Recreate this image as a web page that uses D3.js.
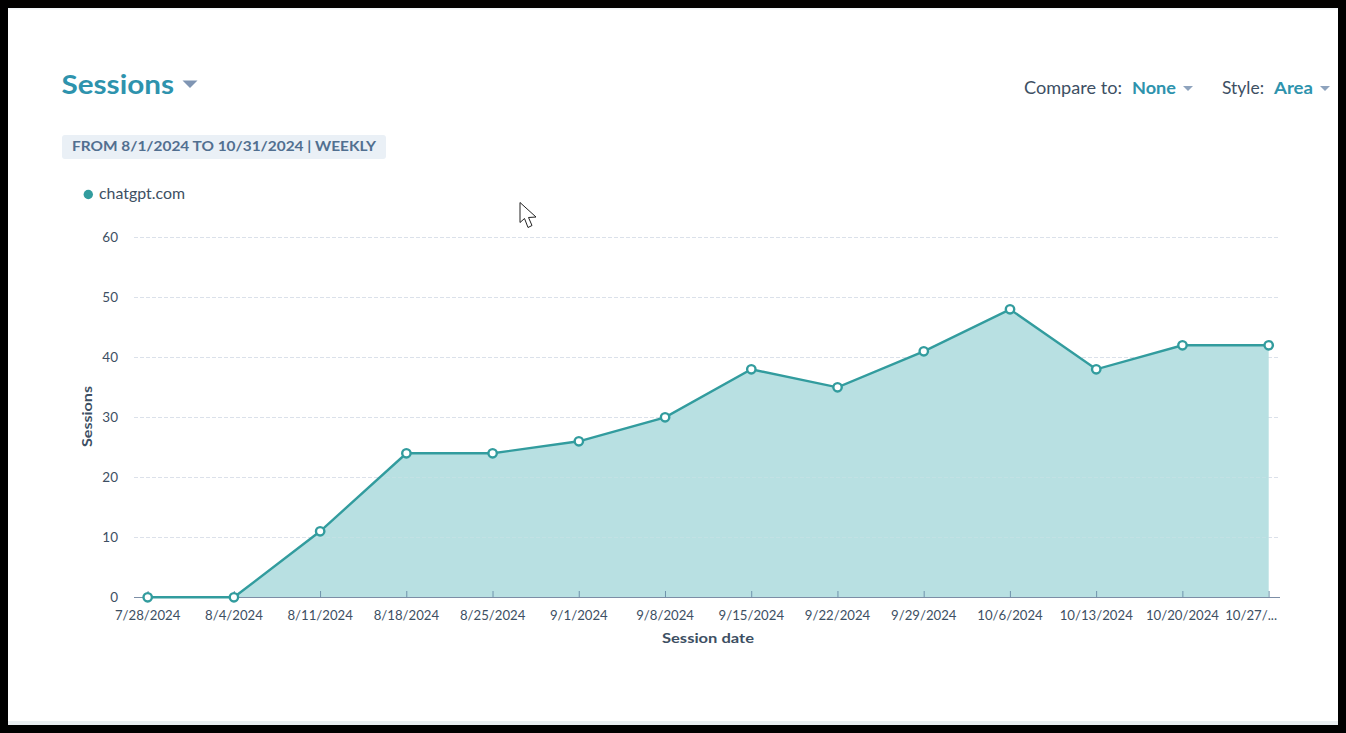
<!DOCTYPE html>
<html><head><meta charset="utf-8">
<style>
html,body{margin:0;padding:0;background:#000;overflow:hidden}
svg{display:block}
text{font-family:Lato,"Open Sans",sans-serif}
</style>
<script src="https://cdn.jsdelivr.net/npm/d3@7"></script>
</head><body>
<svg id="c" width="1346" height="733"></svg>
<script>
const categories=["7/28/2024","8/4/2024","8/11/2024","8/18/2024","8/25/2024","9/1/2024","9/8/2024","9/15/2024","9/22/2024","9/29/2024","10/6/2024","10/13/2024","10/20/2024","10/27/..."];
const sessions=[0,0,11,24,24,26,30,38,35,41,48,38,42,42];
const yTicks=[0,10,20,30,40,50,60];
const seriesName="chatgpt.com";
const teal="#329c9e", blue="#2e93ad", dark="#3d4f63", slate="#516f90";

const svg=d3.select("#c");
svg.append("rect").attr("width",1346).attr("height",733).attr("fill","#000");
svg.append("rect").attr("x",8).attr("y",8).attr("width",1330).attr("height",717).attr("fill","#fff");
svg.append("rect").attr("x",8).attr("y",8).attr("width",1330).attr("height",1.5).attr("fill","#eef3f6");
svg.append("rect").attr("x",8).attr("y",721).attr("width",1330).attr("height",4).attr("fill","#e9eef1");

const x=d3.scalePoint().domain(categories).range([147.7,1268.7]);
const y=d3.scaleLinear().domain([0,60]).range([597,237]);
const axisL=134, axisR=1280;
const fit=(s,w)=>s.attr("textLength",w).attr("lengthAdjust","spacingAndGlyphs");

// header
fit(svg.append("text").attr("x",61.5).attr("y",94).attr("font-size",27.5).attr("font-weight",700).attr("fill",blue).text("Sessions"),112.5);
const tri=(cx,cy,w,h,f)=>svg.append("path").attr("d",`M${cx-w/2},${cy}h${w}l${-w/2},${h}z`).attr("fill",f);
tri(190,80.5,15,7.5,"#7f95b3");
fit(svg.append("text").attr("x",1024).attr("y",94).attr("font-size",17).attr("fill",dark).text("Compare to:"),98);
fit(svg.append("text").attr("x",1132).attr("y",94).attr("font-size",17).attr("font-weight",700).attr("fill",blue).text("None"),44);
tri(1188,86,10,5,"#8ea3bd");
fit(svg.append("text").attr("x",1222).attr("y",94).attr("font-size",17).attr("fill",dark).text("Style:"),42);
fit(svg.append("text").attr("x",1274).attr("y",94).attr("font-size",17).attr("font-weight",700).attr("fill",blue).text("Area"),39);
tri(1325,86,10,5,"#8ea3bd");

// date pill
svg.append("rect").attr("x",62).attr("y",135).attr("width",324).attr("height",24).attr("rx",3).attr("fill","#eaf0f6");
fit(svg.append("text").attr("x",72).attr("y",151).attr("font-size",14).attr("font-weight",700).attr("fill",slate).text("FROM 8/1/2024 TO 10/31/2024 | WEEKLY"),304);

// legend
svg.append("circle").attr("cx",88.3).attr("cy",194.5).attr("r",4.7).attr("fill",teal);
fit(svg.append("text").attr("x",99).attr("y",198.6).attr("font-size",15).attr("fill",dark).text(seriesName),86);

// grid
svg.append("g").selectAll("line").data(yTicks.slice(1)).join("line")
  .attr("x1",axisL).attr("x2",axisR).attr("y1",d=>y(d)+.5).attr("y2",d=>y(d)+.5)
  .attr("stroke","#dbe1ea").attr("stroke-dasharray","4 2");
svg.append("g").selectAll("text").data(yTicks).join("text")
  .attr("x",118).attr("y",d=>y(d)+5).attr("text-anchor","end").attr("font-size",13.5).attr("fill",dark).text(d=>d);

// area & line
const idx=categories.map((c,i)=>i);
svg.append("path").datum(idx).attr("fill","#b8e0e2")
  .attr("d",d3.area().x(i=>x(categories[i])).y0(y(0)).y1(i=>y(sessions[i])));
// gridlines show faintly through the fill
svg.append("g").selectAll("line").data(yTicks.slice(1,3)).join("line")
  .attr("x1",axisL).attr("x2",axisR).attr("y1",d=>y(d)+.5).attr("y2",d=>y(d)+.5)
  .attr("stroke","#dfe3eb").attr("stroke-opacity",.25).attr("stroke-dasharray","4 2");

// x axis
svg.append("line").attr("x1",axisL).attr("x2",axisR).attr("y1",597.5).attr("y2",597.5).attr("stroke","#7c8ea6").attr("stroke-width",1);
svg.append("g").selectAll("line").data(categories).join("line")
  .attr("x1",d=>x(d)+.4).attr("x2",d=>x(d)+.4).attr("y1",591).attr("y2",597).attr("stroke","#6f93ac");
svg.append("g").selectAll("text").data(categories).join("text")
  .attr("x",(d,i)=>i===categories.length-1?1277:x(d))
  .attr("y",620)
  .attr("text-anchor",(d,i)=>i===categories.length-1?"end":"middle")
  .attr("font-size",13.2).attr("fill",dark).text(d=>d);

svg.append("path").datum(idx).attr("fill","none").attr("stroke",teal).attr("stroke-width",2.4)
  .attr("d",d3.line().x(i=>x(categories[i])).y(i=>y(sessions[i])+.3));
svg.append("g").selectAll("circle").data(idx).join("circle")
  .attr("cx",i=>x(categories[i])).attr("cy",i=>y(sessions[i])+.3).attr("r",4.2).attr("fill","#fff").attr("stroke",teal).attr("stroke-width",2.4);

// axis titles
fit(svg.append("text").attr("x",662).attr("y",643).attr("font-size",14).attr("font-weight",700).attr("fill",dark).text("Session date"),92);
svg.append("text").attr("transform","translate(92,447) rotate(-90)").attr("font-size",14).attr("font-weight",700).attr("fill",dark).attr("textLength",61).attr("lengthAdjust","spacingAndGlyphs").text("Sessions");

// mouse cursor captured in the screenshot
svg.append("path").attr("d","M520,202.5V222.5L524.5,218.5L528,227.5L532,225.5L528.5,217.5L536,217Z").attr("fill","#fff").attr("stroke","#222").attr("stroke-width",1);
</script>
</body></html>
